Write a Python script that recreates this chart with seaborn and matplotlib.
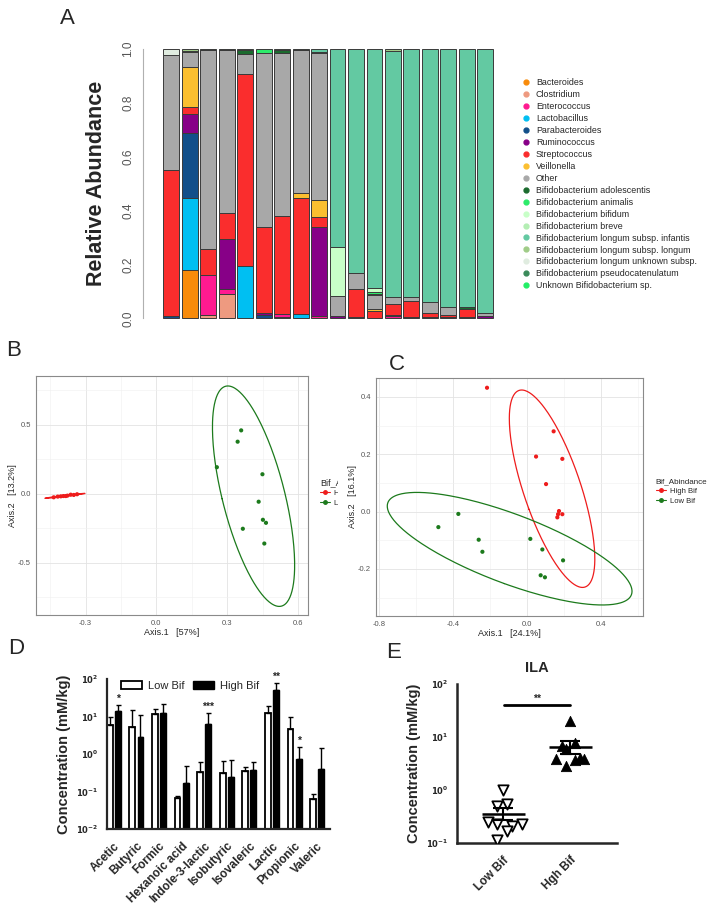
import numpy as np
import pandas as pd
import matplotlib
matplotlib.use("Agg")
import matplotlib.pyplot as plt
import seaborn as sns
from matplotlib.lines import Line2D
from matplotlib.patches import Patch, Rectangle
from matplotlib.ticker import MultipleLocator, FixedLocator

sns.set_style("white")
plt.rcParams['font.family'] = ['Liberation Sans', 'DejaVu Sans']

# ---------------- panel A data: relative abundance per sample ----------------
samples = ["S%d" % i for i in range(1, 19)]
taxa = ["Bacteroides", "Clostridium", "Enterococcus", "Lactobacillus", "Parabacteroides",
        "Ruminococcus", "Streptococcus", "Veillonella", "Other",
        "Bifidobacterium adolescentis", "Bifidobacterium animalis", "Bifidobacterium bifidum",
        "Bifidobacterium breve", "Bifidobacterium longum subsp. infantis",
        "Bifidobacterium longum subsp. longum", "Bifidobacterium longum unknown subsp.",
        "Bifidobacterium pseudocatenulatum", "Unknown Bifidobacterium sp."]
taxa_colors = ["#F88B0B", "#EE9A80", "#FF1A90", "#00BFF2", "#124F8A",
               "#870087", "#FA2D2D", "#FBBF30", "#A8A8A8",
               "#1B6B2E", "#2CEB6A", "#C8FFC8", "#B4EEB4", "#63C9A2",
               "#A0CC88", "#E0ECE0", "#3A8A5A", "#22EE66"]

bacteroides   = [0, .179, 0, 0, 0, 0, 0, 0, 0, 0, 0, 0, 0, 0, 0, 0, 0, 0]
clostridium   = [0, 0, .012, .089, 0, 0, .006, 0, 0, 0, 0, 0, 0, 0, 0, 0, 0, 0]
enterococcus  = [0, 0, .149, .021, 0, 0, .010, 0, .009, 0, 0, 0, .008, 0, 0, 0, 0, 0]
lactobacillus = [0, .269, 0, 0, .196, 0, 0, .015, 0, 0, 0, 0, 0, 0, 0, 0, 0, 0]
parabact      = [.009, .239, 0, 0, 0, .012, 0, 0, 0, 0, .006, 0, 0, 0, 0, 0, .004, 0]
ruminococcus  = [0, .070, 0, .183, 0, .009, 0, 0, .329, .009, 0, 0, .006, .005, .006, .004, 0, .008]
streptococcus = [.542, .026, .095, .099, .710, .319, .365, .433, .037, 0, .103, .028, .040, .060, .014, .008, .031, 0]
veillonella   = [0, .151, 0, 0, 0, 0, 0, .019, .064, 0, 0, .005, 0, 0, 0, 0, 0, 0]
other         = [.427, .054, .740, .604, .075, .646, .603, .529, .547, .075, .058, .055, .024, .015, .039, .031, 0, .012]
b_adolesc     = [0, .003, .004, .004, .015, 0, .012, .004, .004, 0, 0, .004, 0, 0, 0, 0, .008, 0]
b_animalis    = [0, 0, 0, 0, 0, .014, 0, 0, 0, 0, 0, .006, 0, 0, 0, 0, 0, 0]
b_bifidum     = [0, 0, 0, 0, 0, 0, 0, 0, 0, .182, 0, .015, 0, 0, 0, 0, 0, 0]
b_breve       = [0, .003, 0, 0, 0, 0, 0, 0, 0, 0, 0, 0, 0, 0, 0, 0, 0, 0]
b_infantis    = [0, 0, 0, 0, 0, 0, 0, 0, .010, .734, .833, .887, .916, .920, .941, .957, .957, .980]
b_longum      = [0, .006, 0, 0, .004, 0, .004, 0, 0, 0, 0, 0, .006, 0, 0, 0, 0, 0]
b_long_unk    = [.022, 0, 0, 0, 0, 0, 0, 0, 0, 0, 0, 0, 0, 0, 0, 0, 0, 0]
b_pseudocat   = [0] * 18
b_unknown     = [0] * 18

abund = pd.DataFrame([bacteroides, clostridium, enterococcus, lactobacillus, parabact,
                      ruminococcus, streptococcus, veillonella, other, b_adolesc, b_animalis,
                      b_bifidum, b_breve, b_infantis, b_longum, b_long_unk, b_pseudocat,
                      b_unknown], index=taxa, columns=samples)

# ---------------- panel B / C data: PCoA coordinates ----------------
b_high_x = [-0.435, -0.418, -0.405, -0.394, -0.384, -0.377, -0.363, -0.350, -0.336]
b_high_y = [-0.024, -0.019, -0.017, -0.015, -0.015, -0.012, -0.005, -0.007, -0.002]
b_low_x = [0.359, 0.344, 0.256, 0.449, 0.433, 0.451, 0.464, 0.366, 0.457]
b_low_y = [0.461, 0.379, 0.194, 0.143, -0.056, -0.187, -0.209, -0.252, -0.359]

c_high_x = [-0.216, 0.144, 0.049, 0.191, 0.103, 0.173, 0.168, 0.191, 0.164]
c_high_y = [0.432, 0.280, 0.192, 0.184, 0.096, 0.002, -0.009, -0.009, -0.020]
c_low_x = [-0.479, -0.371, -0.261, -0.241, 0.018, 0.083, 0.195, 0.074, 0.097]
c_low_y = [-0.054, -0.008, -0.098, -0.140, -0.095, -0.132, -0.170, -0.222, -0.229]

# ---------------- panel D data: organic acids ----------------
acids = ["Acetic", "Butyric", "Formic", "Hexanoic acid", "Indole-3-lactic", "Isobutyric",
         "Isovaleric", "Lactic", "Propionic", "Valeric"]
low_mean = [6.0, 5.2, 11.6, 0.066, 0.34, 0.31, 0.355, 12.3, 4.6, 0.063]
low_top = [10.0, 15.0, 16.0, 0.076, 0.63, 0.67, 0.46, 18.6, 10.0, 0.085]
high_mean = [14.3, 2.8, 12.3, 0.166, 6.4, 0.25, 0.38, 52.0, 0.74, 0.39]
high_top = [20.6, 11.1, 22.0, 0.49, 12.3, 0.70, 0.63, 78.0, 1.58, 1.49]
stars = ["*", "", "", "", "***", "", "", "**", "*", ""]

# ---------------- panel E data: ILA ----------------
ila_low_dx = [-0.01, -0.09, 0.06, -0.225, -0.09, 0.135, 0.055, 0.275, -0.09]
ila_low = [0.98, 0.49, 0.55, 0.25, 0.23, 0.21, 0.17, 0.23, 0.115]
ila_high_dx = [0.0, -0.125, 0.075, -0.06, -0.215, -0.065, 0.075, 0.15, 0.21]
ila_high = [19.8, 6.9, 7.7, 5.9, 3.85, 2.8, 3.7, 4.0, 3.9]
ila_groups = ["Low Bif", "Hgh Bif"]

W, H = 709, 915
fig = plt.figure(figsize=(W / 100, H / 100), dpi=100)


def px_axes(l, t, r, b, **kw):
    return fig.add_axes([l / W, 1 - b / H, (r - l) / W, (b - t) / H], **kw)


def ftxt(x, y, s, **kw):
    fig.text(x / W, 1 - y / H, s, **kw)


# ================= A =================
axA = px_axes(147, 46, 495, 322)
xpos = np.arange(len(samples))
bottom = np.zeros(len(samples))
for name, col in zip(taxa, taxa_colors):
    vals = abund.loc[name].values.astype(float)
    m = vals > 0
    axA.bar(xpos[m], vals[m], bottom=bottom[m], width=0.86, color=col,
            edgecolor="#3a3a3a", linewidth=0.7)
    bottom += vals
axA.set_xlim(-1.32, 17.53)
axA.set_ylim(-0.0137, 1.011)
for s in ["top", "right", "bottom"]:
    axA.spines[s].set_visible(False)
axA.spines["left"].set_bounds(0, 1)
axA.spines["left"].set_position(("outward", 3))
axA.spines["left"].set_color("#b0b0b0")
axA.set_xticks([])
axA.set_yticks([0, 0.2, 0.4, 0.6, 0.8, 1.0])
axA.set_yticklabels(["0.0", "0.2", "0.4", "0.6", "0.8", "1.0"], rotation=90, va="center",
                    fontsize=8.5, color="#555555")
axA.tick_params(axis="y", length=3, color="#b0b0b0", pad=3)
ftxt(97, 183, "Relative Abundance", rotation=90, ha="center", va="center",
     fontsize=15.5, fontweight="bold")
handlesA = [Line2D([], [], marker="o", ls="none", color=c, markersize=3.5) for c in taxa_colors]
axA.legend(handlesA, taxa, loc="upper left", bbox_to_anchor=(518 / W, 1 - 74 / H),
           bbox_transform=fig.transFigure, frameon=False, fontsize=6.4, labelspacing=0.33,
           handlelength=0.8, handletextpad=0.7, borderpad=0)

# ================= B / C helpers =================
pal = {"High Bif": "#EE1C1C", "Low Bif": "#1C7A1C"}
ELLIPSE_RADIUS = 2.986  # sqrt(2 * F(0.95; 2, 8)), as in stat_ellipse for 9 points


def cov_trob(X, nu=5, maxit=25, tol=0.01):
    # robust t-scatter, same iteration as MASS::cov.trob
    n, p = X.shape
    loc = X.mean(axis=0)
    w = np.ones(n)
    for _ in range(maxit):
        w0 = w
        Xc = X - loc
        S = (Xc * (w / w.sum())[:, None]).T @ Xc
        Q = np.einsum("ij,jk,ik->i", Xc, np.linalg.inv(S), Xc)
        w = (nu + p) / (nu + Q)
        loc = (w[:, None] * X).sum(axis=0) / w.sum()
        if np.all(np.abs(w - w0) < tol):
            break
    Xc = X - loc
    cov = (Xc * w[:, None]).T @ Xc / n
    return loc, cov


def ellipse(x, y, radius=ELLIPSE_RADIUS, n=300):
    loc, cov = cov_trob(np.column_stack([x, y]))
    vals, vecs = np.linalg.eigh(cov)
    t = np.linspace(0, 2 * np.pi, n)
    circ = np.vstack([np.cos(t), np.sin(t)])
    pts = vecs @ (np.sqrt(vals)[:, None] * circ) * radius
    return loc[0] + pts[0], loc[1] + pts[1]


def gg_panel(ax, hx, hy, lx, ly, xlim, ylim, xmaj, ymaj, xlab, ylab):
    df = pd.DataFrame({"x": hx + lx, "y": hy + ly,
                       "group": ["High Bif"] * len(hx) + ["Low Bif"] * len(lx)})
    ax.set_axisbelow(True)
    sns.scatterplot(data=df, x="x", y="y", hue="group", palette=pal, s=9,
                    edgecolor="none", ax=ax, legend=False, zorder=3)
    for g, (gx, gy) in {"High Bif": (hx, hy), "Low Bif": (lx, ly)}.items():
        ex, ey = ellipse(gx, gy)
        ax.plot(ex, ey, color=pal[g], lw=0.9, zorder=2)
    ax.set_xlim(*xlim)
    ax.set_ylim(*ylim)
    ax.xaxis.set_major_locator(FixedLocator(xmaj))
    ax.yaxis.set_major_locator(FixedLocator(ymaj))
    ax.xaxis.set_minor_locator(MultipleLocator((xmaj[1] - xmaj[0]) / 2))
    ax.yaxis.set_minor_locator(MultipleLocator((ymaj[1] - ymaj[0]) / 2))
    ax.grid(True, which="major", color="#E3E3E3", lw=0.6)
    ax.grid(True, which="minor", color="#F0F0F0", lw=0.4)
    for s in ax.spines.values():
        s.set_color("#8a8a8a")
        s.set_linewidth(0.8)
    ax.tick_params(which="major", length=2, color="#8a8a8a", labelsize=5.5,
                   labelcolor="#555555", pad=1.5)
    ax.tick_params(which="minor", length=0)
    ax.set_xlabel(xlab, fontsize=6.5, labelpad=1)
    ax.set_ylabel(ylab, fontsize=6.5, labelpad=1)
    hnd = [Line2D([], [], color=pal[g], marker="o", markersize=2.5, lw=0.8) for g in pal]
    return hnd


# ================= B =================
axB = px_axes(36, 376, 308, 615)
hB = gg_panel(axB, b_high_x, b_high_y, b_low_x, b_low_y, (-0.51, 0.642), (-0.877, 0.855),
              [-0.3, 0.0, 0.3, 0.6], [-0.5, 0.0, 0.5], "Axis.1   [57%]", "Axis.2   [13.2%]")
axB.set_xticklabels(["-0.3", "0.0", "0.3", "0.6"])
axB.set_yticklabels(["-0.5", "0.0", "0.5"])
axB.legend(hB, list(pal), title="Bif_Abindance", loc="upper left",
           bbox_to_anchor=(316 / W, 1 - 474 / H), bbox_transform=fig.transFigure,
           frameon=False, fontsize=5.5, title_fontsize=6.5, handlelength=1.3,
           handletextpad=0.5, borderpad=0, labelspacing=0.35, alignment="left")
# panel C sits over the right part of B's legend, as in the original figure
fig.patches.append(Rectangle((338 / W, 1 - 530 / H), 40 / W, 70 / H, transform=fig.transFigure,
                             facecolor="white", edgecolor="none", zorder=1))

# ================= C =================
axC = px_axes(376, 378, 643, 616, zorder=2)
hC = gg_panel(axC, c_high_x, c_high_y, c_low_x, c_low_y, (-0.816, 0.627), (-0.364, 0.466),
              [-0.8, -0.4, 0.0, 0.4], [-0.2, 0.0, 0.2, 0.4], "Axis.1   [24.1%]",
              "Axis.2   [16.1%]")
axC.set_xticklabels(["-0.8", "-0.4", "0.0", "0.4"])
axC.set_yticklabels(["-0.2", "0.0", "0.2", "0.4"])
axC.legend(hC, list(pal), title="Bif_Abindance", loc="upper left",
           bbox_to_anchor=(652 / W, 1 - 474 / H), bbox_transform=fig.transFigure,
           frameon=False, fontsize=5.5, title_fontsize=5.8, handlelength=1.3,
           handletextpad=0.5, borderpad=0, labelspacing=0.35, alignment="left")

# ================= D =================
axD = px_axes(107, 679, 330, 829)
xi = np.arange(len(acids))
lm, lt = np.array(low_mean), np.array(low_top)
hm, ht = np.array(high_mean), np.array(high_top)
axD.set_yscale("log")
axD.bar(xi - 0.18, lm - 0.01, bottom=0.01, width=0.26, color="white", edgecolor="black", lw=1.3)
axD.bar(xi + 0.18, hm - 0.01, bottom=0.01, width=0.26, color="black", edgecolor="black", lw=1.0)
axD.errorbar(xi - 0.18, lm, yerr=[np.zeros_like(lm), lt - lm], fmt="none", ecolor="black",
             elinewidth=1.0, capsize=1.8, capthick=1.0)
axD.errorbar(xi + 0.18, hm, yerr=[np.zeros_like(hm), ht - hm], fmt="none", ecolor="black",
             elinewidth=1.0, capsize=1.8, capthick=1.0)
for i, s in enumerate(stars):
    if s:
        axD.text(i + 0.18, ht[i] * 1.45, s, ha="center", va="center", fontsize=7.5,
                 fontweight="bold", clip_on=False)
axD.set_xlim(-0.3, 9.57)
axD.set_ylim(1e-2, 1e2)
axD.set_yticks([1e-2, 1e-1, 1e0, 1e1, 1e2])
axD.set_yticklabels([r"$\mathbf{10^{-2}}$", r"$\mathbf{10^{-1}}$", r"$\mathbf{10^{0}}$",
                     r"$\mathbf{10^{1}}$", r"$\mathbf{10^{2}}$"], fontsize=6)
axD.yaxis.set_minor_locator(FixedLocator([]))
axD.set_xticks(xi)
axD.set_xticklabels(acids, rotation=45, ha="right", rotation_mode="anchor", fontsize=8.5,
                    fontweight="bold")
axD.tick_params(axis="both", length=4, width=1.4, direction="out", pad=2)
axD.tick_params(axis="x", pad=4)
for s in ["top", "right"]:
    axD.spines[s].set_visible(False)
for s in ["left", "bottom"]:
    axD.spines[s].set_linewidth(1.6)
axD.set_ylabel("Concentration (mM/kg)", fontsize=10.5, fontweight="bold", labelpad=4)
axD.legend([Patch(facecolor="white", edgecolor="black", lw=1.3),
            Patch(facecolor="black", edgecolor="black")], ["Low Bif", "High Bif"],
           loc="upper left", bbox_to_anchor=(115 / W, 1 - 675 / H),
           bbox_transform=fig.transFigure, ncol=2, frameon=False, fontsize=8,
           handlelength=1.9, handleheight=0.7, handletextpad=0.6, columnspacing=0.7,
           borderpad=0)

# ================= E =================
axE = px_axes(457, 684, 617, 843)
axE.set_yscale("log")
dfE = pd.DataFrame({"x": [0 + d for d in ila_low_dx] + [1 + d for d in ila_high_dx],
                    "ila": ila_low + ila_high,
                    "group": ["Low Bif"] * len(ila_low) + ["Hgh Bif"] * len(ila_high)})
sns.scatterplot(data=dfE[dfE.group == "Low Bif"], x="x", y="ila", marker="v", s=55,
                facecolor="white", edgecolor="black", linewidth=1.3, ax=axE, zorder=3)
sns.scatterplot(data=dfE[dfE.group == "Hgh Bif"], x="x", y="ila", marker="^", s=55,
                color="black", edgecolor="black", ax=axE, zorder=3)
for i, g in enumerate(ila_groups):
    v = dfE.loc[dfE.group == g, "ila"].values
    mu = v.mean()
    sem = v.std(ddof=1) / np.sqrt(len(v))
    axE.hlines(mu, i - 0.32, i + 0.32, color="black", lw=1.8, zorder=4)
    axE.errorbar(i, mu, yerr=sem, fmt="none", ecolor="black", elinewidth=1.5, capsize=7,
                 capthick=1.5, zorder=4)
ysig = max(ila_high) * 2
axE.plot([0.015, 1.0], [ysig, ysig], color="black", lw=2)
axE.text(0.5, ysig * 1.3, "**", ha="center", va="center", fontsize=7.5, fontweight="bold")
axE.set_xlim(-0.69, 1.70)
axE.set_ylim(0.1, 100)
axE.set_yticks([1e-1, 1e0, 1e1, 1e2])
axE.set_yticklabels([r"$\mathbf{10^{-1}}$", r"$\mathbf{10^{0}}$", r"$\mathbf{10^{1}}$",
                     r"$\mathbf{10^{2}}$"], fontsize=6)
axE.yaxis.set_minor_locator(FixedLocator([]))
axE.set_xticks([0, 1])
axE.set_xticklabels(ila_groups, rotation=45, ha="right", rotation_mode="anchor", fontsize=8.5,
                    fontweight="bold")
axE.tick_params(axis="both", length=4, width=1.4, direction="out", pad=2)
axE.tick_params(axis="x", pad=4)
for s in ["top", "right"]:
    axE.spines[s].set_visible(False)
for s in ["left", "bottom"]:
    axE.spines[s].set_linewidth(1.8)
axE.set_xlabel("")
axE.set_ylabel("Concentration (mM/kg)", fontsize=10.5, fontweight="bold", labelpad=4)
ftxt(537, 668, "ILA", ha="center", va="center", fontsize=10.5, fontweight="bold")

# ================= panel letters =================
for lab, (x, y) in {"A": (67, 18), "B": (14, 350), "C": (397, 364), "D": (16, 648),
                    "E": (394, 652)}.items():
    ftxt(x, y, lab, ha="center", va="center", fontsize=16)

fig.savefig("out.png", dpi=100)
